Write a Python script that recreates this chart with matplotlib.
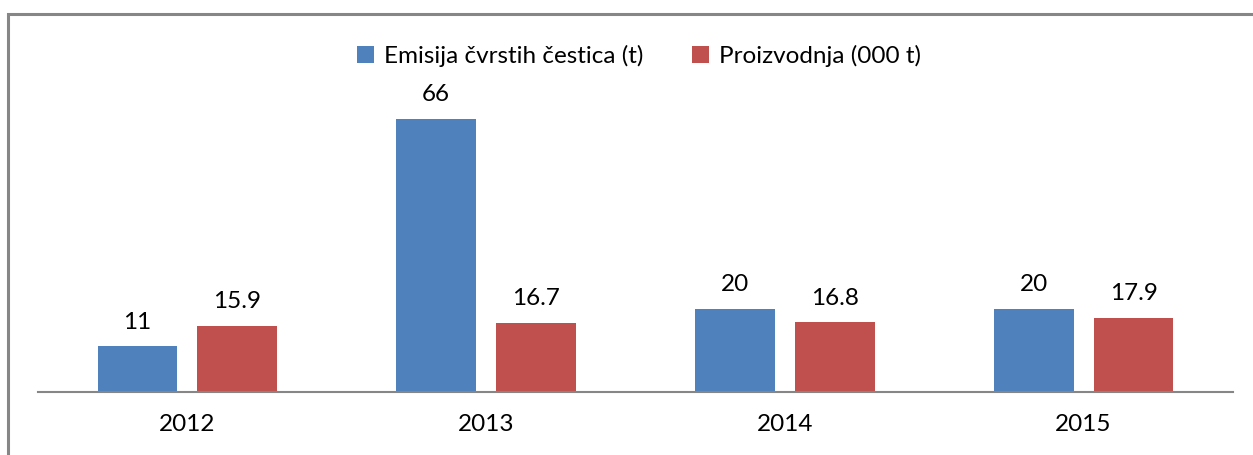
import matplotlib
matplotlib.use("Agg")
import matplotlib.pyplot as plt
from matplotlib.patches import Rectangle
import numpy as np

plt.rcParams['font.family'] = ['Lato', 'DejaVu Sans']

years = ["2012", "2013", "2014", "2015"]
emisija = [11, 66, 20, 20]
proizvodnja = [15.9, 16.7, 16.8, 17.9]
series_names = ["Emisija čvrstih čestica (t)", "Proizvodnja (000 t)"]
emisija_labels = ["11", "66", "20", "20"]
proizvodnja_labels = ["15.9", "16.7", "16.8", "17.9"]

W, H = 1253, 455
fig = plt.figure(figsize=(W / 100, H / 100), dpi=100)

# outer chart border
fig.patches.append(Rectangle((8 / W, -0.1), 1.2, 1 - 14 / H + 0.1 - 0.001,
                             transform=fig.transFigure, fill=False,
                             edgecolor="#868686", linewidth=2.2))

left, right = 38 / W, 1233 / W
bottom = (H - 392) / H
top_px = 61
ax = fig.add_axes([left, bottom, right - left, (392 - top_px) / H])

x = np.arange(len(years))
bw = 0.267
off = 0.167
blue, red = "#4F81BD", "#C0504D"
b1 = ax.bar(x - off, emisija, bw, color=blue, label=series_names[0])
b2 = ax.bar(x + off, proizvodnja, bw, color=red, label=series_names[1])

fs = 17.5
for rects, labs in ((b1, emisija_labels), (b2, proizvodnja_labels)):
    for r, t in zip(rects, labs):
        ax.annotate(t, (r.get_x() + r.get_width() / 2, r.get_height()),
                    xytext=(0, 10), textcoords="offset points",
                    ha="center", va="bottom", fontsize=fs, color="black")

ax.set_xlim(-0.5, 3.5)
ax.set_ylim(0, 80)
ax.set_xticks(x)
ax.set_xticklabels(years, fontsize=fs)
ax.tick_params(axis="x", length=0, pad=16)
ax.set_yticks([])
for s in ("top", "right", "left"):
    ax.spines[s].set_visible(False)
ax.spines["bottom"].set_color("#868686")
ax.spines["bottom"].set_linewidth(1.5)

fig.legend(handles=[b1, b2], labels=series_names, loc="center",
           bbox_to_anchor=(639 / W, 1 - 56 / H), ncol=2, frameon=False,
           fontsize=fs, handlelength=0.7, handleheight=0.7,
           handletextpad=0.4, columnspacing=2.0)

fig.savefig("out.png", dpi=100)
